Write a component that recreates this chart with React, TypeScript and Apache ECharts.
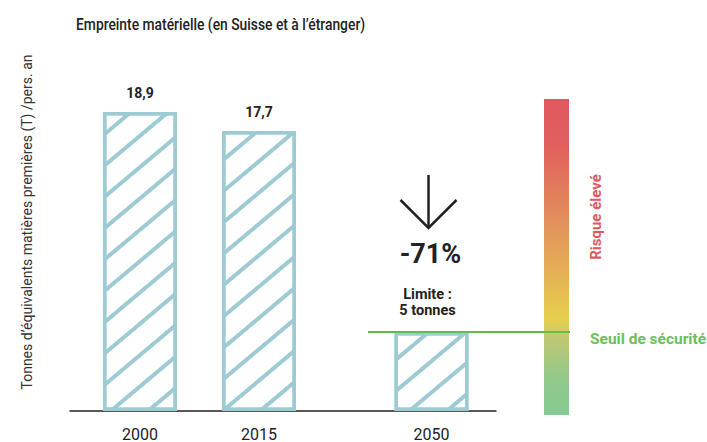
import React, { useEffect, useRef } from "react";
import * as echarts from "echarts";

// ---- data ----
const years = ["2000", "2015", "2050"];
const footprint = [18.9, 17.7, 5];
const limitValue = 5;
const changeLabel = "-71%";
const title = "Empreinte matérielle (en Suisse et à l’étranger)";
const yAxisTitle = "Tonnes d’équivalents matières premières (T) /pers. an";
const limitText = "Limite :\n5 tonnes";
const riskText = "Risque élevé";
const safeText = "Seuil de sécurité";

// ---- layout (not data) ----
const slots = [0, 1, 2.45];

const FONT = "Roboto, 'Liberation Sans', sans-serif";
const BAR = "#9ecbd3";

export default function App() {
  const ref = useRef<HTMLDivElement>(null);
  useEffect(() => {
    if (!ref.current) return;
    const chart = echarts.init(ref.current, null, { renderer: "svg" });
    chart.setOption({
      animation: false,
      backgroundColor: "#ffffff",
      grid: { left: 70, right: 211, top: 94.5, bottom: 30, containLabel: false },
      xAxis: {
        type: "value",
        min: -0.588,
        max: 2.992,
        axisLine: { show: true, onZero: true, lineStyle: { color: "#222", width: 1.5 } },
        axisTick: { show: false },
        splitLine: { show: false },
        axisLabel: {
          customValues: slots,
          formatter: (v: number) => {
            const i = slots.findIndex((s) => Math.abs(s - v) < 1e-6);
            return i >= 0 ? years[i] : "";
          },
          fontSize: 16,
          color: "#222",
          fontFamily: FONT,
          margin: 15,
        },
      },
      yAxis: {
        type: "value",
        min: 0,
        max: 20,
        show: false,
      },
      series: [
        {
          type: "bar",
          barWidth: 74,
          data: footprint.map((v, i) => [slots[i], v]),
          itemStyle: {
            color: "#ffffff",
            borderColor: BAR,
            borderWidth: 3.5,
            decal: {
              symbol: "rect",
              symbolSize: 1,
              color: BAR,
              dashArrayX: [1, 0],
              dashArrayY: [4, 20],
              rotation: -Math.PI / 4.5,
            },
          },
          label: {
            show: true,
            position: "top",
            distance: 12,
            formatter: (p: any) => (years[p.dataIndex] === "2050" ? "" : String(p.value[1]).replace(".", ",")),
            fontSize: 14,
            fontWeight: "bold",
            color: "#222",
            fontFamily: FONT,
          },
          z: 1,
        },
      ],
    });

    const [xc, y5] = chart.convertToPixel({ xAxisIndex: 0, yAxisIndex: 0 }, [slots[2], limitValue]) as number[];
    const [, yTop] = chart.convertToPixel({ xAxisIndex: 0, yAxisIndex: 0 }, [0, 20]) as number[];
    const [, y0] = chart.convertToPixel({ xAxisIndex: 0, yAxisIndex: 0 }, [0, 0]) as number[];

    const ax = xc - 3;
    chart.setOption({
      graphic: [
        {
          type: "text",
          x: 76,
          y: 25,
          scaleX: 0.84,
          style: {
            text: title,
            fontSize: 16.5,
            fontWeight: 500,
            fontFamily: FONT,
            fill: "#222",
            align: "left",
            verticalAlign: "middle",
          },
        },
        {
          type: "text",
          x: 27,
          y: 222,
          rotation: Math.PI / 2,
          style: {
            text: yAxisTitle,
            fontSize: 14,
            fontFamily: FONT,
            fill: "#333",
            align: "center",
            verticalAlign: "middle",
          },
        },
        {
          type: "rect",
          shape: { x: 544, y: yTop + 4.5, width: 25, height: y0 - yTop - 0.5 },
          style: {
            fill: new echarts.graphic.LinearGradient(0, 0, 0, 1, [
              { offset: 0, color: "#e0585e" },
              { offset: 0.15, color: "#e1605d" },
              { offset: 0.4, color: "#e3935c" },
              { offset: 0.7, color: "#e6cf4e" },
              { offset: 0.76, color: "#bdc873" },
              { offset: 0.88, color: "#94c98a" },
              { offset: 1, color: "#84ca94" },
            ]),
          },
          z: 0,
        },
        {
          type: "line",
          shape: { x1: 368, y1: y5, x2: 570, y2: y5 },
          style: { stroke: "#64bb4a", lineWidth: 2 },
          z: 10,
        },
        {
          type: "text",
          x: 596,
          y: 217,
          rotation: Math.PI / 2,
          style: {
            text: riskText,
            fontSize: 15,
            fontWeight: "bold",
            fontFamily: FONT,
            fill: "#e0585e",
            align: "center",
            verticalAlign: "middle",
          },
        },
        {
          type: "text",
          x: 590,
          y: y5 + 7,
          style: {
            text: safeText,
            fontSize: 15.5,
            fontWeight: "bold",
            fontFamily: FONT,
            fill: "#6cbf5c",
            align: "left",
            verticalAlign: "middle",
          },
        },
        {
          type: "line",
          shape: { x1: ax, y1: 175, x2: ax, y2: 228 },
          style: { stroke: "#222", lineWidth: 2.5 },
        },
        {
          type: "polyline",
          shape: { points: [[ax - 28, 200], [ax, 228], [ax + 28, 200]] },
          style: { stroke: "#222", lineWidth: 2.5, fill: null },
        },
        {
          type: "text",
          x: xc - 1,
          y: 254,
          style: {
            text: changeLabel,
            fontSize: 27,
            fontWeight: "bold",
            fontFamily: FONT,
            fill: "#222",
            align: "center",
            verticalAlign: "middle",
          },
        },
        {
          type: "text",
          x: xc - 4,
          y: 302,
          style: {
            text: limitText,
            fontSize: 14.5,
            lineHeight: 16,
            fontWeight: "bold",
            fontFamily: FONT,
            fill: "#222",
            align: "center",
            verticalAlign: "middle",
          },
        },
      ],
    });

    return () => chart.dispose();
  }, []);
  return <div ref={ref} style={{ width: 707, height: 442, position: "absolute", left: 0, top: 0 }} />;
}
